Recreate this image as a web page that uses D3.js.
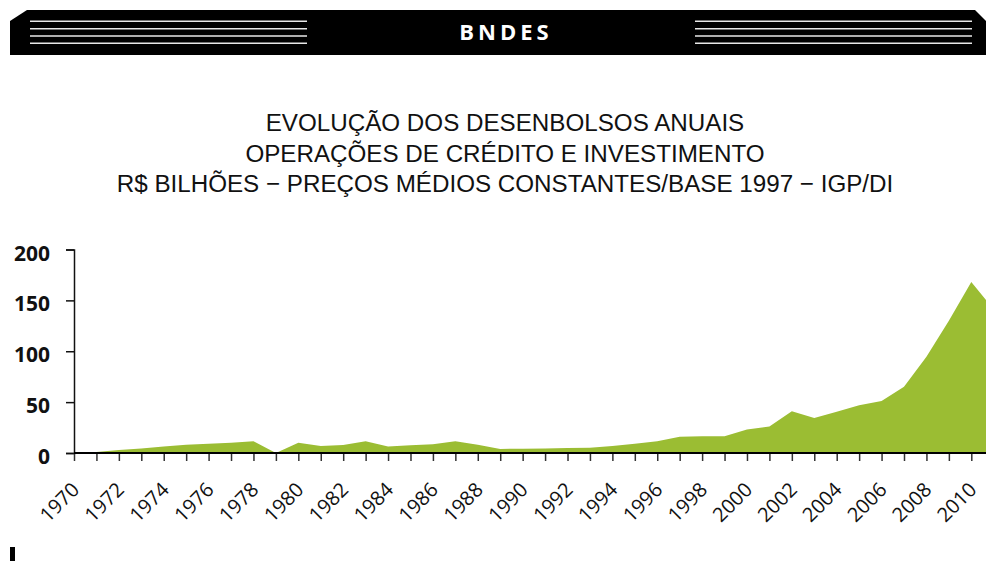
<!DOCTYPE html>
<html>
<head>
<meta charset="utf-8">
<script src="https://cdn.jsdelivr.net/npm/d3@7"></script>
<style>
  body { margin: 0; background: #fff; }
  svg { display: block; }
</style>
</head>
<body>
<div id="chart"></div>
<script>
// anos e desembolsos (R$ bilhões, preços constantes 1997)
const years = d3.range(1970, 2012);
const values = [
  0.3, 1, 3, 4.5, 6.5, 8, 9, 10, 11.5, 0,
  10, 7, 7.8, 11.5, 6.5, 7.5, 8.5, 11.5, 8, 4,
  4.2, 4.5, 4.8, 5.2, 7, 9, 11.5, 16, 16.5, 16.5,
  23, 26, 41, 34.5, 40.5, 47, 51, 65, 94.5, 130,
  168, 141
];
const yTicks = [0, 50, 100, 150, 200];
const xLabelYears = d3.range(1970, 2011, 2);
const titleLines = [
  "EVOLUÇÃO DOS DESENBOLSOS ANUAIS",
  "OPERAÇÕES DE CRÉDITO E INVESTIMENTO",
  "R$ BILHÕES − PREÇOS MÉDIOS CONSTANTES/BASE 1997 − IGP/DI"
];

const W = 986, H = 561;
const svg = d3.select("#chart").append("svg")
  .attr("width", W).attr("height", H);

// faixa do topo
svg.append("path")
  .attr("d", "M10,21 L27,10 L975,10 L995,30 L995,55 L10,55 Z")
  .attr("fill", "#000");
[21.3, 28.7, 36, 43.3].forEach(function(y) {
  svg.append("line").attr("x1", 30).attr("x2", 307).attr("y1", y).attr("y2", y)
    .attr("stroke", "#e8e8e8").attr("stroke-width", 1.4);
  svg.append("line").attr("x1", 695).attr("x2", 972).attr("y1", y).attr("y2", y)
    .attr("stroke", "#e8e8e8").attr("stroke-width", 1.4);
});
svg.append("text")
  .attr("x", 506).attr("y", 39.5)
  .attr("text-anchor", "middle")
  .attr("fill", "#fff")
  .style("font-family", "'Open Sans', sans-serif")
  .style("font-weight", "bold")
  .style("font-size", "22px")
  .style("letter-spacing", "4px")
  .text("BNDES");

// titulo
svg.selectAll("text.title").data(titleLines).enter().append("text")
  .attr("class", "title")
  .attr("x", 505)
  .attr("y", function(d, i) { return 131 + i * 30.5; })
  .attr("text-anchor", "middle")
  .attr("fill", "#111")
  .style("font-family", "'Liberation Sans', Arial, sans-serif")
  .style("font-size", "24.2px")
  .text(function(d) { return d; });

const x = d3.scaleLinear().domain([1970, 2010]).range([74, 971.3]);
const y = d3.scaleLinear().domain([0, 200]).range([453, 249.5]);

const area = d3.area()
  .x(function(d, i) { return x(years[i]); })
  .y0(y(0))
  .y1(function(d) { return y(d); });

svg.append("path")
  .datum(values)
  .attr("d", area)
  .attr("fill", "#9bbd33");

// eixo y
const yAxis = svg.append("g")
  .attr("transform", "translate(74,0)")
  .call(d3.axisLeft(y).tickValues(yTicks).tickSize(8).tickPadding(16));
yAxis.select(".domain").attr("stroke", "#111").attr("stroke-width", 1.5);
yAxis.selectAll(".tick line").attr("stroke", "#111").attr("stroke-width", 1.5);
yAxis.selectAll(".tick text")
  .attr("fill", "#111")
  .attr("dy", "0.5em")
  .style("font-family", "'Open Sans', sans-serif")
  .style("font-weight", "bold")
  .style("font-size", "21px");

// eixo x
const xAxis = svg.append("g")
  .attr("transform", "translate(0,453)")
  .call(d3.axisBottom(x).tickValues(d3.range(1970, 2011)).tickSize(8)
    .tickFormat(function(d) { return xLabelYears.includes(d) ? d : ""; }));
xAxis.select(".domain").remove();
xAxis.selectAll(".tick line").attr("stroke", "#333").attr("stroke-width", 1.5);
xAxis.selectAll(".tick text")
  .attr("fill", "#111")
  .attr("text-anchor", "end")
  .attr("transform", "translate(6,38) rotate(-45)")
  .attr("y", 0).attr("dy", 0)
  .style("font-family", "'Open Sans', sans-serif")
  .style("font-size", "20px");
svg.append("line")
  .attr("x1", 74).attr("x2", W).attr("y1", 453).attr("y2", 453)
  .attr("stroke", "#000").attr("stroke-width", 2);

// marca no canto inferior
svg.append("rect").attr("x", 10).attr("y", 547).attr("width", 5).attr("height", 14)
  .attr("fill", "#000");
</script>
</body>
</html>
